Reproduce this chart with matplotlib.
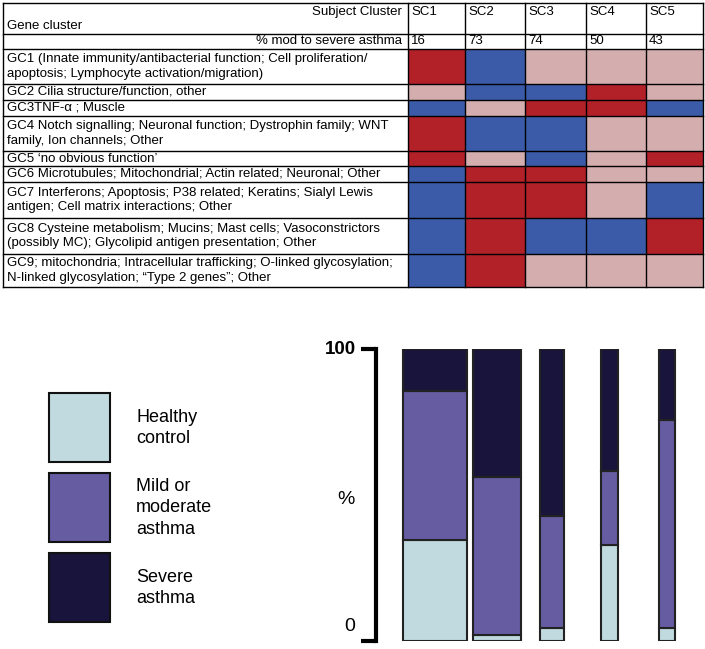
import matplotlib
matplotlib.use("Agg")
import matplotlib.pyplot as plt
from matplotlib.colors import ListedColormap
from matplotlib.patches import Rectangle
import numpy as np

plt.rcParams['font.family'] = ['Liberation Sans', 'DejaVu Sans']

# ---------------- data ----------------
subject_clusters = ["SC1", "SC2", "SC3", "SC4", "SC5"]
pct_mod_severe = [16, 73, 74, 50, 43]
gene_clusters = [
    "GC1 (Innate immunity/antibacterial function; Cell proliferation/\napoptosis; Lymphocyte activation/migration)",
    "GC2 Cilia structure/function, other",
    "GC3TNF-\u03b1 ; Muscle",
    "GC4 Notch signalling; Neuronal function; Dystrophin family; WNT\nfamily, Ion channels; Other",
    "GC5 \u2018no obvious function\u2019",
    "GC6 Microtubules; Mitochondrial; Actin related; Neuronal; Other",
    "GC7 Interferons; Apoptosis; P38 related; Keratins; Sialyl Lewis\nantigen; Cell matrix interactions; Other",
    "GC8 Cysteine metabolism; Mucins; Mast cells; Vasoconstrictors\n(possibly MC); Glycolipid antigen presentation; Other",
    "GC9; mitochondria; Intracellular trafficking; O-linked glycosylation;\nN-linked glycosylation; \u201cType 2 genes\u201d; Other",
]
# 1 = up (red), 0 = neutral (pink), -1 = down (blue)
expression = [
    [1, -1, 0, 0, 0],
    [0, -1, -1, 1, 0],
    [-1, 0, 1, 1, -1],
    [1, -1, -1, 0, 0],
    [1, 0, -1, 0, 1],
    [-1, 1, 1, 0, 0],
    [-1, 1, 1, 0, -1],
    [-1, 1, -1, -1, 1],
    [-1, 1, 0, 0, 0],
]

groups = ["Healthy\ncontrol", "Mild or\nmoderate\nasthma", "Severe\nasthma"]
healthy = [34.5, 2.0, 4.3, 32.8, 4.3]
mild = [51.0, 54.0, 38.6, 25.5, 71.5]
severe = [14.5, 44.0, 57.1, 41.7, 24.2]

# ---------------- layout / style ----------------
W, H = 705, 649
fig = plt.figure(figsize=(W / 100, H / 100), dpi=100)
ax = fig.add_axes([0, 0, 1, 1], zorder=0)
ax.set_xlim(0, W)
ax.set_ylim(H, 0)
ax.axis("off")

c_blue, c_pink, c_red = "#3B5AA8", "#D4AEAE", "#B22028"
col_edges = [408, 465, 525, 586, 646, 703]
row_edges = [49, 84, 100, 116, 151, 166, 182, 218, 254, 287]
tab_left, tab_top = 3, 3
hdr_mid = 34
fs = 9.5

cmap = ListedColormap([c_blue, c_pink, c_red])
ax.pcolormesh(col_edges, row_edges, np.array(expression), cmap=cmap,
              vmin=-1.5, vmax=1.5, shading="flat")

lw = 1.0
for y in [tab_top, hdr_mid] + row_edges:
    ax.plot([tab_left, col_edges[-1]], [y, y], color="black", lw=lw)
for x in [tab_left] + col_edges:
    ax.plot([x, x], [tab_top, row_edges[-1]], color="black", lw=lw)

# header text
ax.text(col_edges[0] - 6, 12, "Subject Cluster", ha="right", va="center", fontsize=fs)
ax.text(7, 26, "Gene cluster", ha="left", va="center", fontsize=fs)
ax.text(col_edges[0] - 6, 41.5, "% mod to severe asthma", ha="right", va="center", fontsize=fs)
for i, (sc, p) in enumerate(zip(subject_clusters, pct_mod_severe)):
    ax.text(col_edges[i] + 3, 12, sc, ha="left", va="center", fontsize=fs)
    ax.text(col_edges[i] + 3, 41.5, str(p), ha="left", va="center", fontsize=fs)
for i, g in enumerate(gene_clusters):
    yc = (row_edges[i] + row_edges[i + 1]) / 2
    ax.text(7, yc, g, ha="left", va="center", fontsize=fs, linespacing=1.32)

# legend squares
leg_colors = ["#C0DADF", "#655CA2", "#19143B"]
leg_tops = [393, 473, 553]
for top, col, lab in zip(leg_tops, leg_colors, groups):
    ax.add_patch(Rectangle((49, top), 61, 69, facecolor=col, edgecolor="#111111", lw=1.5))
    ax.text(136, top + 35, lab, ha="left", va="center", fontsize=13, linespacing=1.34)

# ---------------- stacked bars ----------------
ax_left, ax_right, ax_top, ax_bot = 376, 705, 349, 641
bax = fig.add_axes([ax_left / W, (H - ax_bot) / H, (ax_right - ax_left) / W, (ax_bot - ax_top) / H], zorder=2)
bax.patch.set_alpha(0)
bar_centers = [435, 497, 552, 609.5, 667]
bar_widths = [64, 48, 24, 17, 16]
h = np.array(healthy); m = np.array(mild); s = np.array(severe)
ek = dict(edgecolor="#222222", linewidth=1.5)
bax.bar(bar_centers, h, width=bar_widths, color=leg_colors[0], **ek)
bax.bar(bar_centers, m, width=bar_widths, bottom=h, color=leg_colors[1], **ek)
bax.bar(bar_centers, s, width=bar_widths, bottom=h + m, color=leg_colors[2], **ek)
bax.set_xlim(ax_left, ax_right)
bax.set_ylim(0, 100)
for sp in ["top", "right", "bottom"]:
    bax.spines[sp].set_visible(False)
bax.spines["left"].set_linewidth(3)
bax.set_xticks([])
bax.set_yticks([0, 100])
bax.set_yticklabels([])
bax.tick_params(axis="y", length=11, width=3, direction="out")
bax.text(-0.06, 1.0, "100", transform=bax.transAxes, ha="right", va="center",
         fontsize=13.5, fontweight="bold")
bax.text(-0.079, 0.05, "0", transform=bax.transAxes, ha="center", va="center", fontsize=14)
bax.text(-0.09, 0.485, "%", transform=bax.transAxes, ha="center", va="center", fontsize=14)

fig.savefig("out.png", dpi=100)
